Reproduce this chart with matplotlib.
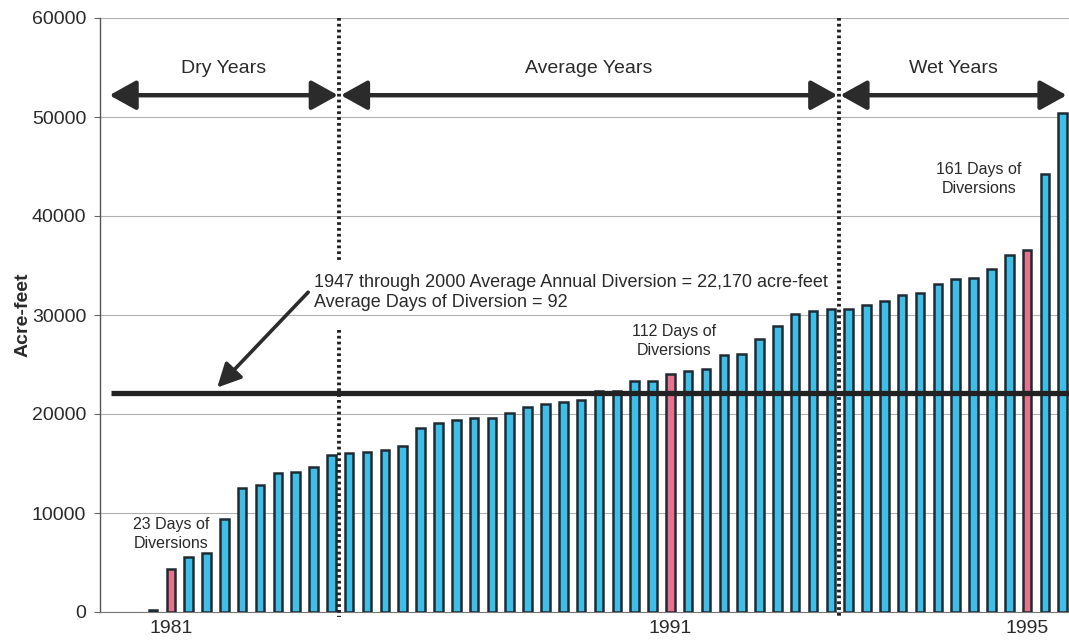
import numpy as np
import matplotlib
matplotlib.use("Agg")
import matplotlib.pyplot as plt

plt.rcParams["font.family"] = ["Liberation Sans", "DejaVu Sans"]

# Annual diversions (acre-feet), ranked from smallest to largest
diversions = [200, 4300, 5550, 5950, 9400, 12500, 12800, 14050, 14150, 14650,
              15900, 16100, 16200, 16400, 16800, 18550, 19100, 19400, 19550, 19550,
              20150, 20750, 21000, 21250, 21400, 22300, 22300, 23350, 23350, 24000,
              24350, 24550, 25950, 26100, 27600, 28900, 30100, 30450, 30600, 30600,
              31000, 31450, 32050, 32250, 33100, 33600, 33700, 34650, 36100, 36600,
              44200, 50450]

# Highlighted years and their days of diversion
highlight_idx = [1, 29, 49]
highlight_years = ["1981", "1991", "1995"]
highlight_days = [23, 112, 161]

avg_diversion = 22170
avg_days = 92

periods = ["Dry Years", "Average Years", "Wet Years"]
period_edges = [-2.52, 10.45, 38.45, 51.3]

blue = "#3FBFE8"
pink = "#E8728C"
edge = "#1E2B33"
ink = "#2A2A2A"

fig = plt.figure(figsize=(10.69, 6.41), dpi=100)
ax = fig.add_axes([100 / 1069, 1 - 612 / 641, 1 - 100 / 1069, (612 - 18) / 641])

x = np.arange(len(diversions))
colors = [pink if i in highlight_idx else blue for i in x]
ax.bar(x, diversions, width=0.48, color=colors, edgecolor=edge, linewidth=1.8, zorder=3)

ax.set_xlim(-2.97, 51.35)
ax.set_ylim(0, 60000)
ax.set_yticks(np.arange(0, 60001, 10000))
ax.yaxis.grid(True, color="#b0b0b0", linewidth=0.8, zorder=0)
ax.set_axisbelow(True)
ax.set_xticks(highlight_idx)
ax.set_xticklabels(highlight_years)
ax.tick_params(axis="x", length=0, pad=6, labelsize=14, labelcolor=ink)
ax.tick_params(axis="y", length=4, width=0.8, color="#666666", pad=6, labelsize=14, labelcolor=ink)
for side in ["top", "right"]:
    ax.spines[side].set_visible(False)
ax.spines["left"].set_color("#555555")
ax.spines["bottom"].set_color("#777777")
ax.spines["left"].set_linewidth(1.0)
ax.set_ylabel("Acre-feet", fontsize=14, fontweight="bold", color=ink, labelpad=0)

# Long-term average line
ax.plot([-2.35, 51.35], [avg_diversion, avg_diversion], color="#222222", lw=3.8,
        zorder=4, solid_capstyle="butt")

# Period boundaries
dot = dict(color="#222222", lw=2.8, linestyle=(0, (0.7, 0.8)), zorder=5, clip_on=False)
ax.plot([period_edges[1]] * 2, [60000, 35600], **dot)
ax.plot([period_edges[1]] * 2, [28500, -500], **dot)
ax.plot([period_edges[2]] * 2, [60000, -500], **dot)

# Period arrows and labels
arrow_y = 52200
for i, name in enumerate(periods):
    a, b = period_edges[i], period_edges[i + 1]
    ax.annotate("", xy=(a + 0.08, arrow_y), xytext=(b - 0.08, arrow_y),
                arrowprops=dict(arrowstyle="<|-|>,head_length=0.9,head_width=0.5",
                                color="#2b2b2b", lw=3.2, shrinkA=0, shrinkB=0,
                                mutation_scale=18), zorder=6)
    ax.text((a + b) / 2, 54850, name, ha="center", va="center", fontsize=14, color=ink)

# Average annotation
ax.text(9.0, 32300,
        f"1947 through 2000 Average Annual Diversion = {avg_diversion:,} acre-feet\n"
        f"Average Days of Diversion = {avg_days}",
        ha="left", va="center", fontsize=13, color=ink, linespacing=1.25, zorder=7)
ax.annotate("", xy=(3.6, avg_diversion + 500), xytext=(8.7, 32300),
            arrowprops=dict(arrowstyle="-|>,head_length=0.8,head_width=0.4",
                            color="#2b2b2b", lw=2.6, shrinkA=0, shrinkB=0,
                            mutation_scale=18), zorder=7)

# Days-of-diversion labels for highlighted years
label_pos = [(highlight_idx[0], 7900), (highlight_idx[1] + 0.2, 27400), (highlight_idx[2] - 2.7, 43700)]
for (lx, ly), d in zip(label_pos, highlight_days):
    ax.text(lx, ly, f"{d} Days of\nDiversions", ha="center", va="center",
            fontsize=11.5, color=ink, linespacing=1.35, zorder=7)

fig.savefig("out.png", dpi=100)
